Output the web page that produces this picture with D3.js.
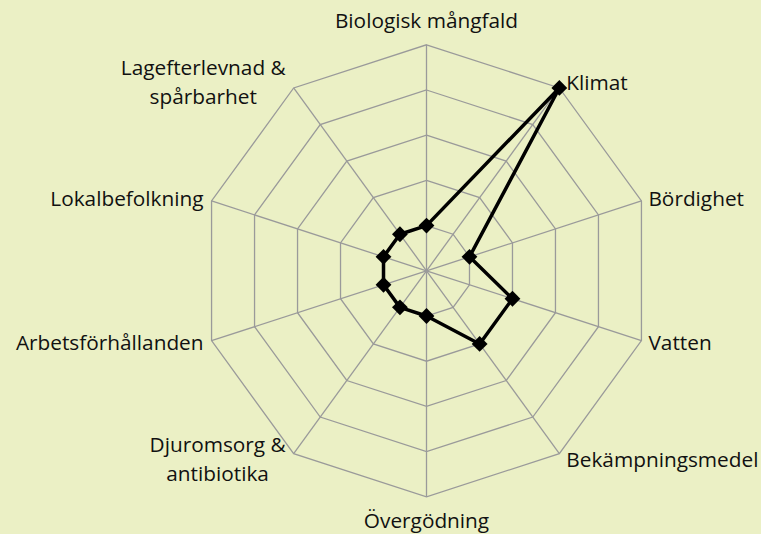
<!DOCTYPE html>
<html>
<head>
<meta charset="utf-8">
<script src="https://cdn.jsdelivr.net/npm/d3@7"></script>
<style>
  html, body { margin: 0; padding: 0; background: #ebf0c5; }
  svg { display: block; }
</style>
</head>
<body>
<div id="chart"></div>
<script>
// === DONNÉES ===
const categories = [
  "Biologisk mångfald", "Klimat", "Bördighet", "Vatten", "Bekämpningsmedel",
  "Övergödning", "Djuromsorg & antibiotika", "Arbetsförhållanden",
  "Lokalbefolkning", "Lagefterlevnad & spårbarhet"
];
// libellés sur deux lignes comme dans l'original
const labelLines = [
  ["Biologisk mångfald"], ["Klimat"], ["Bördighet"], ["Vatten"], ["Bekämpningsmedel"],
  ["Övergödning"], ["Djuromsorg &", "antibiotika"], ["Arbetsförhållanden"],
  ["Lokalbefolkning"], ["Lagefterlevnad &", "spårbarhet"]
];
const values = [1, 5, 1, 2, 2, 1, 1, 1, 1, 1];
const ringTicks = [1, 2, 3, 4, 5];

// === CONFIGURATION ===
const W = 761, H = 534;
const cx = 426.5, cy = 270.8, R = 226;
const fontSize = 20.8, lineHeight = 29;

const svg = d3.select("#chart").append("svg")
  .attr("width", W)
  .attr("height", H);

svg.append("rect").attr("width", W).attr("height", H).attr("fill", "#ebf0c5");

const g = svg.append("g").attr("transform", `translate(${cx},${cy})`);

const rScale = d3.scaleLinear().domain([0, 5]).range([0, R]);
const angle = d3.scalePoint().domain(categories).range([0, 2 * Math.PI * (categories.length - 1) / categories.length]);

const pt = (cat, r) => {
  const a = angle(cat);
  return [r * Math.sin(a), -r * Math.cos(a)];
};

// grille (anneaux)
ringTicks.forEach(t => {
  g.append("path")
    .attr("d", d3.line()(categories.map(c => pt(c, rScale(t)))) + "Z")
    .attr("fill", "none")
    .attr("stroke", "#9a9a9a")
    .attr("stroke-width", 1.3);
});

// rayons
categories.forEach(c => {
  const [x, y] = pt(c, R);
  g.append("line")
    .attr("x1", 0).attr("y1", 0)
    .attr("x2", x).attr("y2", y)
    .attr("stroke", "#9a9a9a")
    .attr("stroke-width", 1.3);
});

// série
const pts = categories.map((c, i) => pt(c, rScale(values[i])));
g.append("path")
  .attr("d", d3.line()(pts) + "Z")
  .attr("fill", "none")
  .attr("stroke", "#000")
  .attr("stroke-width", 3.5)
  .attr("stroke-linejoin", "round");

g.selectAll(".marker")
  .data(pts)
  .enter()
  .append("path")
  .attr("class", "marker")
  .attr("d", d3.symbol().type(d3.symbolSquare).size(125))
  .attr("transform", d => `translate(${d[0]},${d[1]}) rotate(45)`)
  .attr("fill", "#000");

// libellés
categories.forEach((c, i) => {
  const a = angle(c);
  const s = Math.sin(a), co = Math.cos(a);
  const [vx, vy] = pt(c, R);
  const lines = labelLines[i];
  const txt = g.append("text")
    .style("font-family", "'Open Sans', sans-serif")
    .style("font-size", fontSize + "px")
    .attr("fill", "#111");

  let centerY;
  if (Math.abs(s) < 0.01) {
    centerY = vy + (co > 0 ? -24 : 24);
  } else {
    centerY = vy - 7 * co;
  }
  const firstBase = centerY + 0.35 * fontSize - (lines.length - 1) * lineHeight / 2;

  const spans = lines.map((l, k) =>
    txt.append("tspan").attr("y", firstBase + k * lineHeight).text(l));

  const widths = spans.map(sp => sp.node().getComputedTextLength());
  const blockW = d3.max(widths);
  let mid;
  if (Math.abs(s) < 0.01) mid = vx;
  else if (s > 0) mid = vx + 7 + blockW / 2;
  else mid = vx - 8 - blockW / 2;
  spans.forEach(sp => sp.attr("x", mid).attr("text-anchor", "middle"));
});
</script>
</body>
</html>
